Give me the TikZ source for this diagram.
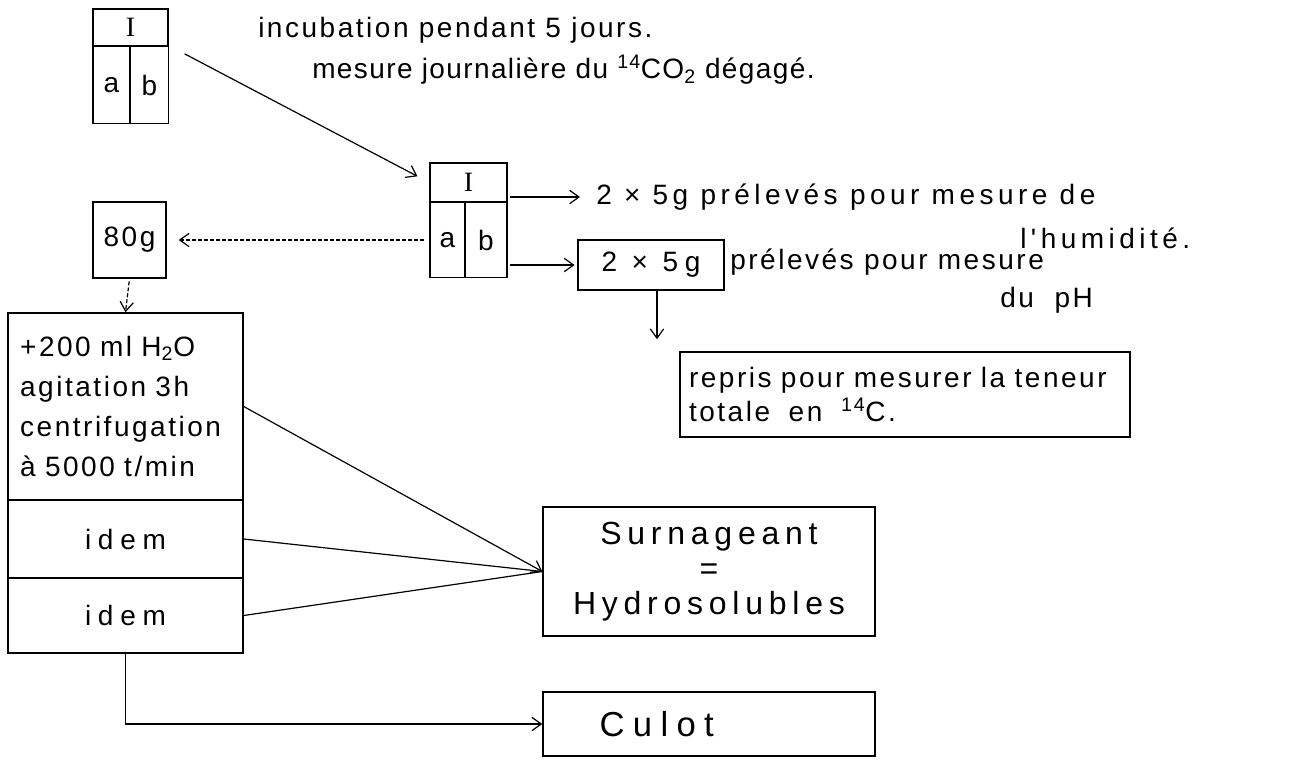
\documentclass[tikz,border=0pt]{standalone}
\usepackage{fontspec}
\setmainfont{Liberation Sans}
\newfontfamily\handA{Liberation Sans}[LetterSpace=9]
\newfontfamily\handT{Liberation Sans}[LetterSpace=5]
\newfontfamily\handC{Liberation Sans}[LetterSpace=16]
\newfontfamily\handB{Liberation Sans}[LetterSpace=24]
\newfontfamily\handD{Liberation Sans}[LetterSpace=18]
\newfontfamily\serifI{Liberation Serif}
\usetikzlibrary{arrows.meta}
\begin{document}
\begin{tikzpicture}[x=0.75pt,y=-0.75pt,
  cell/.style={draw, line width=1.1pt, inner sep=0pt, font=\handA\fontsize{21}{25}\selectfont},
  lbl/.style={inner sep=0pt, anchor=west, font=\handA\fontsize{21}{25}\selectfont},
  wide/.style={font=\handB\fontsize{21}{25}\selectfont},
  big/.style={font=\handD\fontsize{24}{26}\selectfont},
  arr/.style={-{Straight Barb[length=7pt,width=10pt]}, line width=0.9pt},
  darr/.style={arr, dash pattern=on 3pt off 1.5pt},
  thinl/.style={line width=0.9pt}]
\useasboundingbox (0,0) rectangle (1299,768);
\fill[white] (0,0) rectangle (1299,768);

% top-left box
\node[cell, minimum width=56.25pt, minimum height=27.75pt] (tI) at (130.5,27.5) {\serifI I};
\node[cell, minimum width=27.75pt, minimum height=57.75pt] (ta) at (111.5,85) {a};
\node[cell, minimum width=28.5pt, minimum height=57.75pt] (tb) at (149.5,85) {b};

% top texts
\node[lbl] (t1) at (258,30) {incubation pendant 5 jours.};
\node[lbl, font=\handT\fontsize{21}{25}\selectfont] (t2) at (312,70) {mesure journalière du \textsuperscript{14}CO\textsubscript{2} dégagé.};

% middle box
\node[cell, minimum width=57.75pt, minimum height=29.25pt] (mI) at (468.5,182.5) {\serifI I};
\node[cell, minimum width=26.25pt, minimum height=56.25pt] (ma) at (447.5,240) {a};
\node[cell, minimum width=31.5pt, minimum height=56.25pt] (mb) at (486,240) {b};

% 80g
\node[cell, minimum width=54.75pt, minimum height=57pt] (g80) at (129.5,240) {80g};

% right texts
\node[lbl, font=\handC\fontsize{21}{25}\selectfont] (hum1) at (596,197) {2 × 5g prélevés pour mesure de};
\node[lbl, font=\handC\fontsize{21}{25}\selectfont] (hum2) at (1020,238) {l'humidité.};
\node[cell, wide, minimum width=109.5pt, minimum height=37.5pt] (m5) at (651,265) {2 × 5g};
\node[lbl] (ph1) at (730,262) {prélevés pour mesure};
\node[lbl] (ph2) at (1000,300) {du\ \ pH};
\node[cell, minimum width=337.5pt, minimum height=63.75pt, align=left, text width=324pt] (rep) at (905,394.5)
  {repris pour mesurer la teneur\\totale\ \ en\ \ \textsuperscript{14}C.};

% big left box
\node[cell, minimum width=176.25pt, minimum height=140.25pt, align=left, text width=158pt,
  font=\handA\fontsize{21}{30}\selectfont] (prep) at (125.5,406.5)
  {+200 ml H\textsubscript{2}O\\agitation 3h\\centrifugation\\à 5000 t/min};
\node[cell, wide, minimum width=176.25pt, minimum height=58.5pt] (id1) at (125.5,539) {idem};
\node[cell, wide, minimum width=176.25pt, minimum height=56.25pt] (id2) at (125.5,615.5) {idem};

% result boxes
\node[cell, big, minimum width=249pt, minimum height=96.75pt, align=center] (surn) at (709,571.5)
  {Surnageant\\=\\Hydrosolubles};
\node[cell, font=\handB\fontsize{26}{26}\selectfont, minimum width=249pt, minimum height=48pt,
  text width=164pt, align=left] (culot) at (709,724) {Culot};

% connectors
\draw[arr, shorten <=13pt, shorten >=10pt] (tb.north east) -- (mI.west);
\draw[arr, shorten <=2pt, shorten >=12pt] (mI.east |- hum1.west) -- (hum1.west);
\draw[arr, shorten <=2pt, shorten >=2pt] (mb.east |- m5.west) -- (m5.west);
\draw[arr, shorten >=9pt] (m5.south -| 657,0) -- (rep.north -| 657,0);
\draw[darr, shorten <=4pt, shorten >=9pt] (ma.west) -- (g80.east);
\draw[darr, shorten <=2pt] (g80.south) -- (prep.north);
\draw[arr] (prep.east) -- (surn.west);
\draw[thinl] (id1.east) -- (surn.west);
\draw[thinl] (id2.east) -- (surn.west);
\draw[arr] (id2.south) |- (culot.west);
\end{tikzpicture}
\end{document}
